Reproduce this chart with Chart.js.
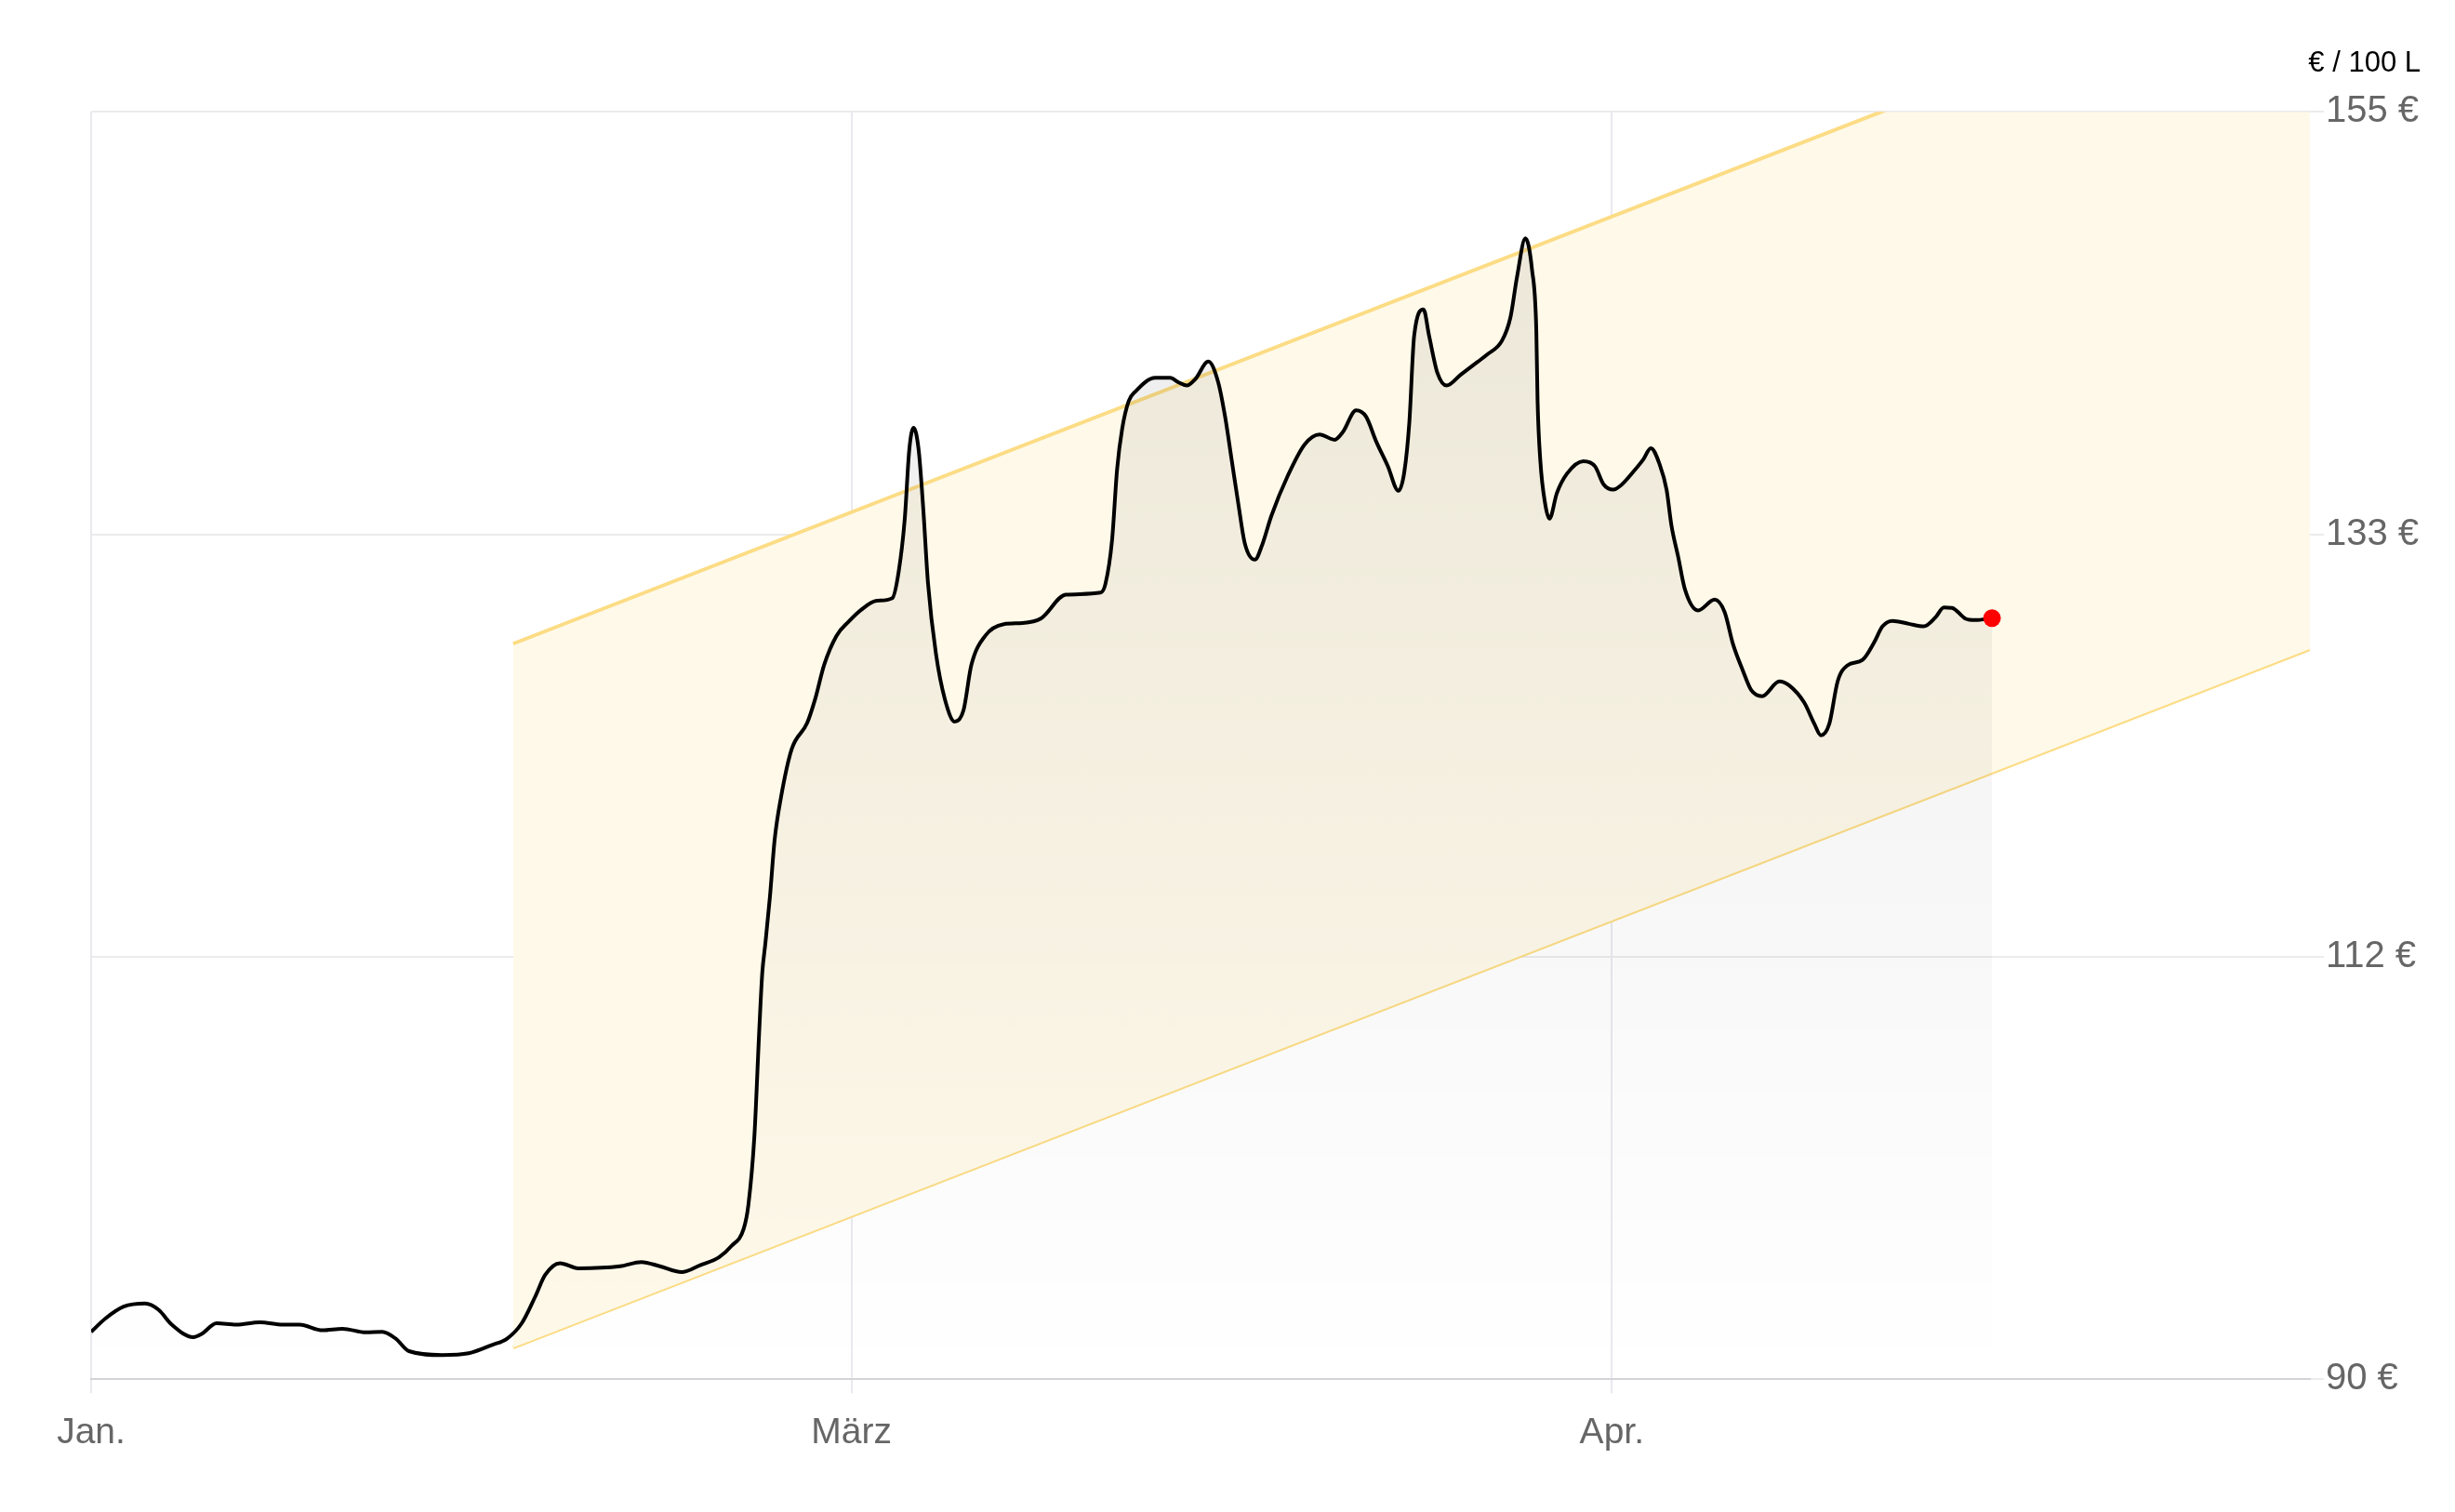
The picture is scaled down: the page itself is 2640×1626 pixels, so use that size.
<!DOCTYPE html>
<html>
<head>
<meta charset="utf-8">
<script src="https://cdn.jsdelivr.net/npm/chart.js@4/dist/chart.umd.min.js"></script>
<style>
html,body{margin:0;padding:0;background:#fff;}
#wrap{width:2640px;height:1626px;position:relative;}
</style>
</head>
<body>
<div id="wrap"><canvas id="c"></canvas></div>
<script>
// x positions (Jan. = 0, März = 30, Apr. = 60 on the chart's axis)
const xPos = [0,0.56,1.28,2.13,2.66,3.18,4.03,4.36,4.95,5.73,6.65,7.57,8.22,9.13,9.92,10.84,11.49,12.02,12.54,13.85,14.90,15.82,16.41,16.99,17.52,17.91,18.50,19.22,
20.86,21.71,22.44,23.30,24.03,24.77,25.26,25.75,25.93,26.17,26.36,26.48,26.60,26.78,26.97,27.21,27.64,28.25,28.56,28.92,29.41,29.90,30.39,31.00,31.61,31.86,32.10,32.28,32.45,32.65,32.83,33.02,33.33,33.69,34.08,34.42,34.73,35.28,36.01,36.75,37.48,
38.45,39.83,40.02,40.28,40.48,40.68,40.94,41.20,41.99,42.57,42.91,43.23,43.56,44.08,44.47,44.74,45.00,45.26,45.52,45.92,46.18,46.57,47.22,47.88,48.47,49.06,49.39,49.91,50.30,50.70,51.16,51.58,51.81,52.01,52.20,52.57,52.79,53.12,53.48,54.04,54.69,55.08,
55.67,56.00,56.26,56.59,56.85,57.02,57.07,57.18,57.37,57.54,57.83,58.23,58.88,59.34,59.67,60.06,60.32,60.84,61.24,61.54,61.89,62.16,62.35,62.62,62.88,63.40,64.06,64.45,64.78,65.17,65.50,65.93,66.61,67.00,67.59,67.99,68.25,68.58,68.91,69.30,69.89,70.35,70.68,71.07,71.72,72.31,72.77,73.10,73.42,73.95,74.34,75.00];
// price in € / 100 L
const prices = [92.43,93.11,93.72,93.88,93.56,92.80,92.16,92.32,92.87,92.80,92.92,92.80,92.80,92.51,92.59,92.40,92.43,92.08,91.44,91.24,91.33,91.76,92.08,92.87,94.23,95.34,95.95,95.69,
95.79,96.01,95.79,95.49,95.85,96.25,96.83,97.73,98.92,102.49,107.86,110.84,112.33,114.71,117.69,119.78,122.31,123.65,124.85,126.63,128.13,128.87,129.47,129.92,130.06,131.40,134.09,137.66,138.80,137.66,134.68,130.81,127.23,124.85,123.72,124.31,126.63,128.13,128.72,128.78,129.02,
130.23,130.34,130.79,133.02,136.67,138.74,140.17,140.65,141.36,141.36,141.12,140.96,141.28,142.19,141.12,139.37,137.15,134.92,132.86,132.03,132.70,134.29,136.35,137.94,138.45,138.18,138.58,139.69,139.37,138.10,136.83,135.56,136.51,139.06,143.51,144.86,143.51,141.60,140.96,141.52,142.16,142.55,
143.27,144.46,146.54,148.51,146.91,143.81,140.17,137.08,134.89,134.13,135.44,136.44,137.08,136.81,135.90,135.62,135.80,136.53,137.17,137.75,136.90,135.62,133.80,132.16,130.53,129.43,129.98,129.34,127.70,126.34,125.34,125.03,125.79,125.58,124.70,123.61,123.02,123.61,125.79,126.61,126.89,127.79,128.61,128.89,128.74,128.61,129.07,129.58,129.56,129.01,128.93,129.03];
// trend channel
const bandX = [16.65, 87.54];
const bandUpper = [127.72, 163.54];
const bandLower = [91.62, 127.44];
// axes
const xTickPos = [0, 30, 60];
const xTickLabels = ['Jan.', 'März', 'Apr.'];
const xMax = 87.54;
const yMin = 90, yMax = 155;
const yTickVals = [90, 111.6667, 133.3333, 155];
const unitLabel = '€ / 100 L';

const mainData = xPos.map((x, i) => ({x: x, y: prices[i]}));
const upperData = bandX.map((x, i) => ({x: x, y: bandUpper[i]}));
const lowerData = bandX.map((x, i) => ({x: x, y: bandLower[i]}));

Chart.defaults.font.family = "'Liberation Sans', Arial, sans-serif";
Chart.defaults.animation = false;

const lastIdx = prices.length - 1;

new Chart(document.getElementById('c'), {
  type: 'line',
  data: {
    datasets: [
      {
        data: mainData,
        borderColor: '#000',
        borderWidth: 4,
        cubicInterpolationMode: 'monotone',
        pointRadius: ctx => ctx.dataIndex === lastIdx ? 9.5 : 0,
        pointBackgroundColor: '#ff0000',
        pointBorderWidth: 0,
        pointHoverRadius: 0,
        fill: 'start',
        backgroundColor: ctx => {
          const ca = ctx.chart.chartArea;
          if (!ca) return 'rgba(0,0,0,0.04)';
          const g = ctx.chart.ctx.createLinearGradient(0, ca.top, 0, ca.bottom);
          g.addColorStop(0, 'rgba(0,0,0,0.08)');
          g.addColorStop(1, 'rgba(0,0,0,0)');
          return g;
        }
      },
      {
        data: upperData,
        borderColor: '#fcdc84',
        borderWidth: 4,
        pointRadius: 0,
        fill: '+1',
        backgroundColor: '#fef9e9',
        tension: 0
      },
      {
        data: lowerData,
        borderColor: '#fcdc84',
        borderWidth: 4,
        pointRadius: 0,
        fill: false,
        tension: 0
      }
    ]
  },
  options: {
    responsive: true,
    maintainAspectRatio: false,
    layout: { padding: { left: 98, right: 37, top: 40, bottom: 41 } },
    plugins: {
      legend: { display: false },
      tooltip: { enabled: false },
      title: {
        display: true,
        text: unitLabel,
        align: 'end',
        color: '#000',
        font: { size: 31, weight: 'normal' },
        padding: { top: 10, bottom: 33 }
      }
    },
    scales: {
      x: {
        type: 'linear',
        min: 0,
        max: xMax,
        afterBuildTicks: axis => { axis.ticks = xTickPos.map(v => ({value: v})); },
        ticks: {
          callback: v => xTickLabels[xTickPos.indexOf(v)],
          color: '#666',
          font: { size: 39 },
          padding: 20,
          maxRotation: 0,
          autoSkip: false
        },
        grid: { color: '#e9e9ee', lineWidth: 2, tickLength: 15 },
        border: { display: true, color: '#d3d3d8', width: 2 }
      },
      y: {
        position: 'right',
        min: yMin,
        max: yMax,
        afterBuildTicks: axis => { axis.ticks = yTickVals.map(v => ({value: v})); },
        ticks: {
          callback: v => Math.round(v) + ' €',
          color: '#666',
          font: { size: 40 },
          padding: 2
        },
        grid: { color: '#ebebeb', lineWidth: 2, tickLength: 15 },
        border: { display: false }
      }
    }
  }
});
</script>
</body>
</html>
